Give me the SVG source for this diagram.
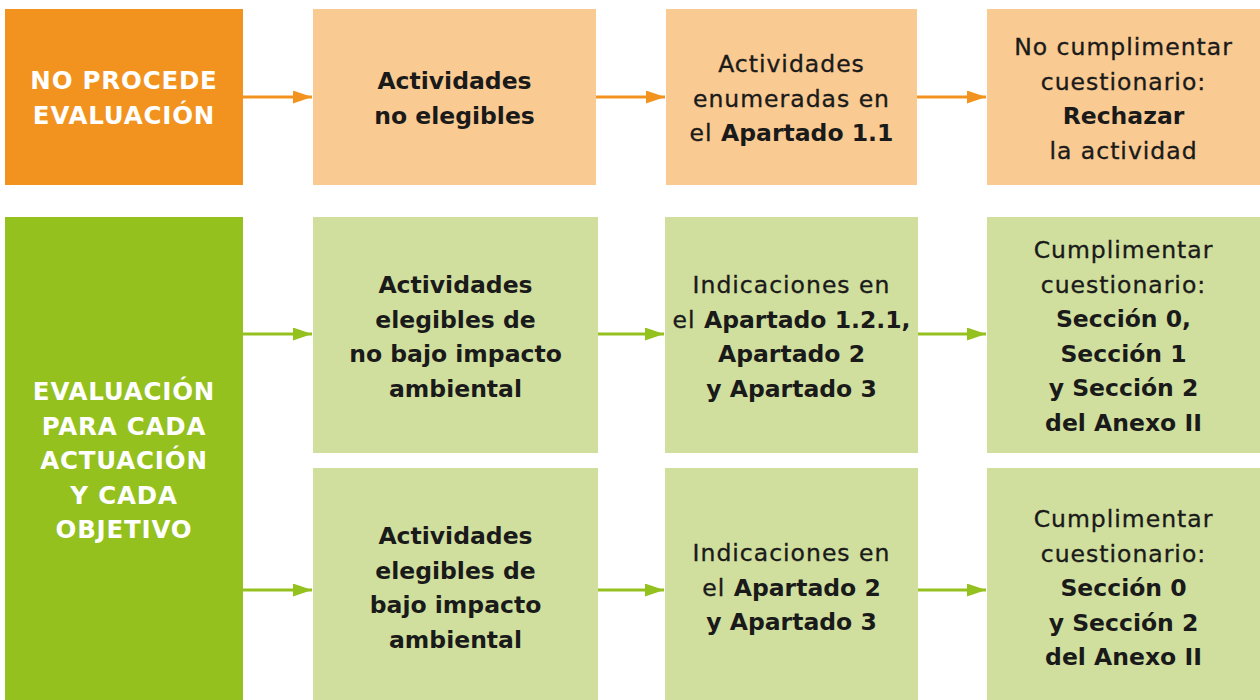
<svg xmlns="http://www.w3.org/2000/svg" width="1260" height="700" viewBox="0 0 1260 700">
<style>
text{font-family:"DejaVu Sans","Liberation Sans",sans-serif;font-size:23.5px;text-anchor:middle;fill:#1a1a1a;letter-spacing:1px;stroke:#1a1a1a;stroke-width:0.35px}
.b{font-weight:bold;letter-spacing:0;stroke:none}
text.b{letter-spacing:0;stroke:none}
.w{fill:#ffffff;font-weight:bold;font-size:24.5px;letter-spacing:0.8px;stroke:none}
.or{fill:#F3931F}
.lor{fill:#F9CA91}
.gr{fill:#95C11F}
.lgr{fill:#D0DF9E}
.ao{stroke:#F3931F;stroke-width:3;fill:none}
.ag{stroke:#95C11F;stroke-width:3;fill:none}
</style>
<defs>
<marker id="mo" markerWidth="19" markerHeight="13" refX="19" refY="6.5" orient="auto" markerUnits="userSpaceOnUse"><path d="M0,0 L19,6.5 L0,13 Z" fill="#F3931F"/></marker>
<marker id="mg" markerWidth="19" markerHeight="13" refX="19" refY="6.5" orient="auto" markerUnits="userSpaceOnUse"><path d="M0,0 L19,6.5 L0,13 Z" fill="#95C11F"/></marker>
</defs>
<rect width="1260" height="700" fill="#ffffff"/>
<g id="connectors">
<line class="ao" x1="243" y1="97" x2="312" y2="97" marker-end="url(#mo)"/>
<line class="ao" x1="596" y1="97" x2="665" y2="97" marker-end="url(#mo)"/>
<line class="ao" x1="917" y1="97" x2="986" y2="97" marker-end="url(#mo)"/>
<line class="ag" x1="243" y1="334" x2="312" y2="334" marker-end="url(#mg)"/>
<line class="ag" x1="598" y1="334" x2="664" y2="334" marker-end="url(#mg)"/>
<line class="ag" x1="918" y1="334" x2="986" y2="334" marker-end="url(#mg)"/>
<line class="ag" x1="243" y1="590" x2="312" y2="590" marker-end="url(#mg)"/>
<line class="ag" x1="598" y1="590" x2="664" y2="590" marker-end="url(#mg)"/>
<line class="ag" x1="918" y1="590" x2="986" y2="590" marker-end="url(#mg)"/>
</g>
<g id="no-procede">
<rect class="or" x="5" y="9" width="238" height="176"/>
<text class="w" x="124" y="89">NO PROCEDE</text>
<text class="w" x="124" y="123.5">EVALUACIÓN</text>
</g>
<g id="no-elegibles">
<rect class="lor" x="313" y="9" width="283" height="176"/>
<text class="b" x="454.5" y="89">Actividades</text>
<text class="b" x="454.5" y="123.5">no elegibles</text>
</g>
<g id="enumeradas">
<rect class="lor" x="666" y="9" width="251" height="176"/>
<text x="791.5" y="72">Actividades</text>
<text x="791.5" y="106.5">enumeradas en</text>
<text x="791.5" y="141">el <tspan class="b">Apartado 1.1</tspan></text>
</g>
<g id="rechazar">
<rect class="lor" x="987" y="9" width="273" height="176"/>
<text x="1123.5" y="55">No cumplimentar</text>
<text x="1123.5" y="89.5">cuestionario:</text>
<text class="b" x="1123.5" y="124">Rechazar</text>
<text x="1123.5" y="158.5">la actividad</text>
</g>
<g id="evaluacion">
<rect class="gr" x="5" y="217" width="238" height="483"/>
<text class="w" x="124" y="400">EVALUACIÓN</text>
<text class="w" x="124" y="434.5">PARA CADA</text>
<text class="w" x="124" y="469">ACTUACIÓN</text>
<text class="w" x="124" y="503.5">Y CADA</text>
<text class="w" x="124" y="538">OBJETIVO</text>
</g>
<g id="no-bajo-impacto">
<rect class="lgr" x="313" y="217" width="285" height="236"/>
<text class="b" x="455.5" y="293">Actividades</text>
<text class="b" x="455.5" y="327.5">elegibles de</text>
<text class="b" x="455.5" y="362">no bajo impacto</text>
<text class="b" x="455.5" y="396.5">ambiental</text>
</g>
<g id="indicaciones-1">
<rect class="lgr" x="665" y="217" width="253" height="236"/>
<text x="791.5" y="293">Indicaciones en</text>
<text x="791.5" y="327.5">el <tspan class="b">Apartado 1.2.1,</tspan></text>
<text class="b" x="791.5" y="362">Apartado 2</text>
<text class="b" x="791.5" y="396.5">y Apartado 3</text>
</g>
<g id="cuestionario-1">
<rect class="lgr" x="987" y="217" width="273" height="236"/>
<text x="1123.5" y="258">Cumplimentar</text>
<text x="1123.5" y="292.5">cuestionario:</text>
<text class="b" x="1123.5" y="327">Sección 0,</text>
<text class="b" x="1123.5" y="361.5">Sección 1</text>
<text class="b" x="1123.5" y="396">y Sección 2</text>
<text class="b" x="1123.5" y="430.5">del Anexo II</text>
</g>
<g id="bajo-impacto">
<rect class="lgr" x="313" y="468" width="285" height="232"/>
<text class="b" x="455.5" y="544">Actividades</text>
<text class="b" x="455.5" y="578.5">elegibles de</text>
<text class="b" x="455.5" y="613">bajo impacto</text>
<text class="b" x="455.5" y="647.5">ambiental</text>
</g>
<g id="indicaciones-2">
<rect class="lgr" x="665" y="468" width="253" height="232"/>
<text x="791.5" y="561">Indicaciones en</text>
<text x="791.5" y="595.5">el <tspan class="b">Apartado 2</tspan></text>
<text class="b" x="791.5" y="630">y Apartado 3</text>
</g>
<g id="cuestionario-2">
<rect class="lgr" x="987" y="468" width="273" height="232"/>
<text x="1123.5" y="527">Cumplimentar</text>
<text x="1123.5" y="561.5">cuestionario:</text>
<text class="b" x="1123.5" y="596">Sección 0</text>
<text class="b" x="1123.5" y="630.5">y Sección 2</text>
<text class="b" x="1123.5" y="665">del Anexo II</text>
</g>
</svg>
